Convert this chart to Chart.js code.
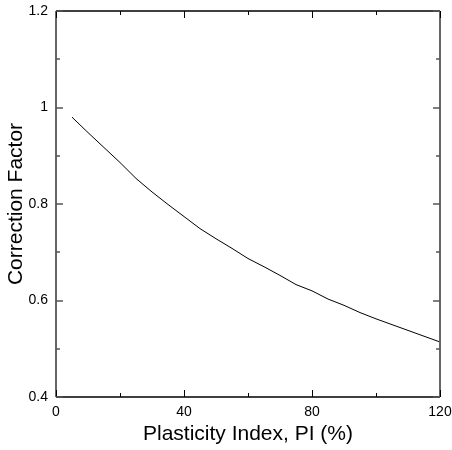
<!DOCTYPE html>
<html>
<head>
<meta charset="utf-8">
<script src="https://cdn.jsdelivr.net/npm/chart.js@4"></script>
<style>
  html, body { margin: 0; padding: 0; background: #fff; }
  #wrap { width: 452px; height: 450px; }
</style>
</head>
<body>
<div id="wrap"><canvas id="chart" width="452" height="450"></canvas></div>
<script>
// Data
const plasticityIndex = [5, 10, 15, 20, 25, 30, 35, 40, 45, 50, 55, 60, 65, 70, 75, 80, 85, 90, 95, 100, 105, 110, 115, 120];
const correctionFactor = [0.980, 0.948, 0.917, 0.886, 0.853, 0.825, 0.799, 0.774, 0.749, 0.728, 0.708, 0.687, 0.670, 0.652, 0.633, 0.620, 0.603, 0.590, 0.575, 0.562, 0.550, 0.538, 0.526, 0.514];

// Tick values
const xMajorTicks = [0, 40, 80, 120];
const xMinorTicks = [20, 60, 100];
const yMajorTicks = [0.4, 0.6, 0.8, 1, 1.2];
const yMinorTicks = [0.5, 0.7, 0.9, 1.1];

const FONT = 'Arial, "Liberation Sans", sans-serif';

// Draws the box and inward ticks on all four sides
const frameTicks = {
  id: 'frameTicks',
  afterDatasetsDraw(chart) {
    const ctx = chart.ctx;
    const area = chart.chartArea;
    const xs = chart.scales.x;
    const ys = chart.scales.y;
    ctx.save();

    // top / bottom in black
    ctx.strokeStyle = '#000';
    ctx.lineWidth = 1.5;
    ctx.beginPath();
    ctx.moveTo(area.left, area.top); ctx.lineTo(area.right, area.top);
    ctx.moveTo(area.left, area.bottom); ctx.lineTo(area.right, area.bottom);
    ctx.stroke();

    // left / right in grey
    ctx.strokeStyle = '#666';
    ctx.lineWidth = 2;
    ctx.beginPath();
    ctx.moveTo(area.left, area.top); ctx.lineTo(area.left, area.bottom);
    ctx.moveTo(area.right, area.top); ctx.lineTo(area.right, area.bottom);
    ctx.stroke();

    // x ticks
    ctx.strokeStyle = '#000';
    ctx.lineWidth = 1;
    ctx.beginPath();
    xMajorTicks.forEach(v => {
      const p = Math.round(xs.getPixelForValue(v)) + 0.5;
      ctx.moveTo(p, area.bottom); ctx.lineTo(p, area.bottom - 7);
      ctx.moveTo(p, area.top); ctx.lineTo(p, area.top + 7);
    });
    xMinorTicks.forEach(v => {
      const p = Math.round(xs.getPixelForValue(v)) + 0.5;
      ctx.moveTo(p, area.bottom); ctx.lineTo(p, area.bottom - 4);
      ctx.moveTo(p, area.top); ctx.lineTo(p, area.top + 4);
    });
    ctx.stroke();

    // y ticks
    ctx.strokeStyle = '#555';
    ctx.lineWidth = 1.5;
    ctx.beginPath();
    yMajorTicks.forEach(v => {
      const p = Math.round(ys.getPixelForValue(v));
      ctx.moveTo(area.left, p); ctx.lineTo(area.left + 7, p);
      ctx.moveTo(area.right, p); ctx.lineTo(area.right - 7, p);
    });
    yMinorTicks.forEach(v => {
      const p = Math.round(ys.getPixelForValue(v));
      ctx.moveTo(area.left, p); ctx.lineTo(area.left + 4, p);
      ctx.moveTo(area.right, p); ctx.lineTo(area.right - 4, p);
    });
    ctx.stroke();
    ctx.restore();
  }
};

new Chart(document.getElementById('chart'), {
  type: 'scatter',
  data: {
    datasets: [{
      data: plasticityIndex.map((x, i) => ({ x: x, y: correctionFactor[i] })),
      showLine: true,
      borderColor: '#000',
      borderWidth: 1,
      pointRadius: 0,
      tension: 0
    }]
  },
  options: {
    responsive: false,
    animation: false,
    layout: { padding: { top: 11, right: 12, left: 0, bottom: 0 } },
    plugins: {
      legend: { display: false },
      tooltip: { enabled: false }
    },
    scales: {
      x: {
        type: 'linear',
        min: 0,
        max: 120,
        afterBuildTicks: s => { s.ticks = xMajorTicks.map(v => ({ value: v })); },
        afterFit: s => { s.height = 53; s.paddingLeft = 0; s.paddingRight = 0; },
        grid: { display: false, drawTicks: false },
        border: { display: false },
        ticks: {
          color: '#000',
          font: { family: FONT, size: 14 },
          padding: 7,
          maxRotation: 0
        },
        title: {
          display: true,
          text: 'Plasticity Index, PI (%)',
          color: '#000',
          font: { family: FONT, size: 21 },
          padding: { top: 0, bottom: 3 }
        }
      },
      y: {
        type: 'linear',
        min: 0.4,
        max: 1.2,
        afterBuildTicks: s => { s.ticks = yMajorTicks.map(v => ({ value: v })); },
        afterFit: s => { s.width = 56; s.paddingTop = 0; s.paddingBottom = 0; },
        grid: { display: false, drawTicks: false },
        border: { display: false },
        ticks: {
          color: '#000',
          font: { family: FONT, size: 14 },
          padding: 8,
          callback: v => String(v)
        },
        title: {
          display: true,
          text: 'Correction Factor',
          color: '#000',
          font: { family: FONT, size: 21 },
          padding: { top: 4, bottom: 0 }
        }
      }
    }
  },
  plugins: [frameTicks]
});
</script>
</body>
</html>
